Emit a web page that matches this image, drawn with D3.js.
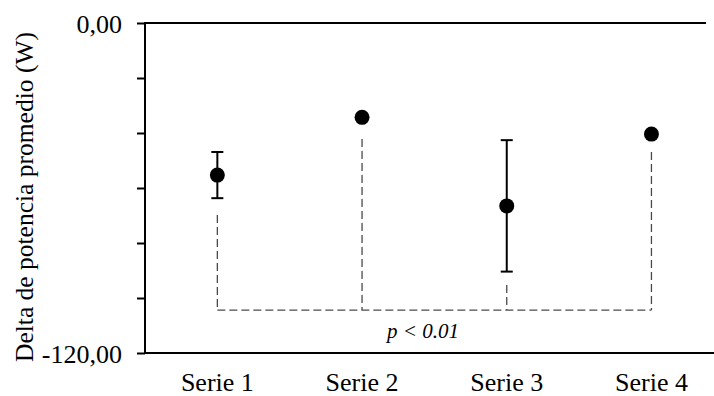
<!DOCTYPE html>
<html>
<head>
<meta charset="utf-8">
<script src="https://cdn.jsdelivr.net/npm/d3@7"></script>
<style>
  html, body { margin: 0; padding: 0; background: #fff; }
  svg { display: block; font-family: "Liberation Serif", "Times New Roman", serif; }
</style>
</head>
<body>
<svg id="chart" width="714" height="396"></svg>
<script>
// Series and their mean change in power (W)
const categories = ["Serie 1", "Serie 2", "Serie 3", "Serie 4"];
const means = [-55.3, -34.3, -66.5, -40.4];
// Half-length of the error bar for each series (0 = no bar)
const errors = [8.4, 0, 23.9, 0];
// Significance bracket: where each leg starts and the common level
const bracketFrom = [-69.8, -42.2, -95.3, -46.9];
const bracketLevel = -104.4;
const pLabel = "p < 0.01";
// Y axis
const yTicks = [0, -20, -40, -60, -80, -100, -120];
const yLabelled = [0, -120];
const yTitle = "Delta de potencia promedio (W)";

const serif = "Liberation Serif, Times New Roman, serif";
const svg = d3.select("#chart");
const W = 714, H = 396;
const plotLeft = 145, plotTop = 23, plotBottom = 353, bandEnd = 723.8;

const x = d3.scaleBand().domain(categories).range([plotLeft, bandEnd]).padding(0);
const cx = c => x(c) + x.bandwidth() / 2;
const y = d3.scaleLinear().domain([-120, 0]).range([plotBottom, plotTop]);

const fmt = d3.formatLocale({
  decimal: ",", thousands: ".", grouping: [3], currency: ["", ""], minus: "-"
}).format(".2f");

const data = categories.map((c, i) => ({
  cat: c, mean: means[i], err: errors[i], from: bracketFrom[i]
}));

// Frame lines: top and bottom
svg.append("line")
  .attr("x1", plotLeft - 1).attr("x2", 706)
  .attr("y1", y(0)).attr("y2", y(0))
  .attr("stroke", "#000").attr("stroke-width", 2);
svg.append("line")
  .attr("x1", plotLeft - 1).attr("x2", W)
  .attr("y1", y(-120)).attr("y2", y(-120))
  .attr("stroke", "#000").attr("stroke-width", 2);

// Left axis with minor ticks every 20 W
const yAxis = svg.append("g")
  .attr("transform", `translate(${plotLeft},0)`)
  .attr("font-family", serif)
  .call(d3.axisLeft(y).tickValues(yTicks).tickSize(8).tickSizeOuter(0).tickPadding(15)
    .tickFormat(d => yLabelled.includes(d) ? fmt(d) : ""));
yAxis.select(".domain").attr("stroke-width", 2).attr("d", `M0,${plotTop - 1}V${plotBottom + 1}`);
yAxis.selectAll(".tick line").attr("stroke-width", 2);
yAxis.selectAll(".tick text")
  .attr("font-family", serif)
  .attr("font-size", 26).attr("dy", "0.37em").attr("fill", "#000");

// Category labels
const xAxis = svg.append("g")
  .attr("transform", `translate(0,${plotBottom})`)
  .attr("font-family", serif)
  .call(d3.axisBottom(x).tickSize(0).tickPadding(20));
xAxis.select(".domain").remove();
xAxis.selectAll(".tick text")
  .attr("font-family", serif)
  .attr("font-size", 26).attr("fill", "#000");

// Y axis title
svg.append("text")
  .attr("transform", `translate(33,362) rotate(-90)`)
  .attr("text-anchor", "start")
  .attr("font-family", serif)
  .attr("font-size", 25.5)
  .attr("fill", "#000")
  .text(yTitle);

// Significance bracket (dashed)
const dash = svg.append("g")
  .attr("fill", "none").attr("stroke", "#4a4a4a")
  .attr("stroke-width", 1.3).attr("stroke-dasharray", "8,4");
dash.selectAll("line.leg").data(data).join("line")
  .attr("class", "leg")
  .attr("x1", d => cx(d.cat)).attr("x2", d => cx(d.cat))
  .attr("y1", d => y(d.from)).attr("y2", y(bracketLevel));
dash.append("line")
  .attr("x1", cx(categories[0])).attr("x2", cx(categories[categories.length - 1]))
  .attr("y1", y(bracketLevel)).attr("y2", y(bracketLevel));

svg.append("text")
  .attr("x", 423).attr("y", 338)
  .attr("text-anchor", "middle")
  .attr("font-family", serif)
  .attr("font-style", "italic")
  .attr("font-size", 21)
  .attr("fill", "#000")
  .text(pLabel);

// Error bars with caps
const eb = svg.append("g").attr("stroke", "#000").attr("stroke-width", 2);
const withErr = data.filter(d => d.err > 0);
eb.selectAll("line.stem").data(withErr).join("line")
  .attr("class", "stem")
  .attr("x1", d => cx(d.cat)).attr("x2", d => cx(d.cat))
  .attr("y1", d => y(d.mean + d.err)).attr("y2", d => y(d.mean - d.err));
eb.selectAll("line.capTop").data(withErr).join("line")
  .attr("class", "capTop")
  .attr("x1", d => cx(d.cat) - 6).attr("x2", d => cx(d.cat) + 6)
  .attr("y1", d => y(d.mean + d.err)).attr("y2", d => y(d.mean + d.err));
eb.selectAll("line.capBot").data(withErr).join("line")
  .attr("class", "capBot")
  .attr("x1", d => cx(d.cat) - 6).attr("x2", d => cx(d.cat) + 6)
  .attr("y1", d => y(d.mean - d.err)).attr("y2", d => y(d.mean - d.err));

// Mean points
svg.selectAll("circle.pt").data(data).join("circle")
  .attr("class", "pt")
  .attr("cx", d => cx(d.cat)).attr("cy", d => y(d.mean))
  .attr("r", 7.5).attr("fill", "#000");
</script>
</body>
</html>
